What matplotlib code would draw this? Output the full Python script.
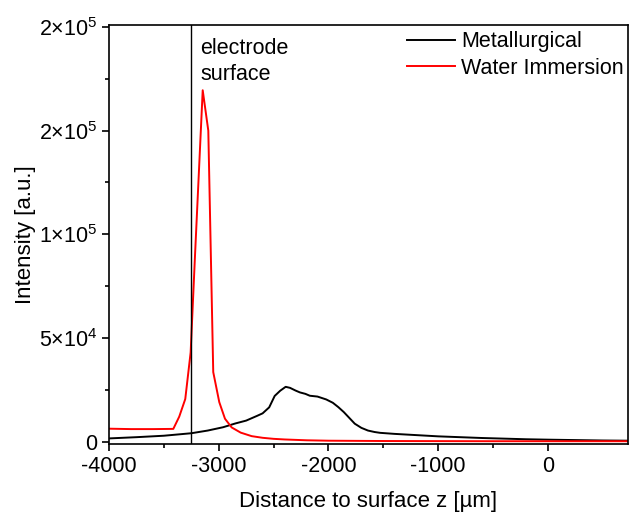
import numpy as np
import matplotlib
matplotlib.use('Agg')
import matplotlib.pyplot as plt
from matplotlib.ticker import FixedLocator

plt.rcParams['font.family'] = ['Liberation Sans', 'DejaVu Sans']
plt.rcParams['mathtext.fontset'] = 'custom'
plt.rcParams['mathtext.rm'] = 'Liberation Sans'
plt.rcParams['mathtext.it'] = 'Liberation Sans'
plt.rcParams['axes.unicode_minus'] = False

# values
metal_z = [-4000, -3750, -3500, -3250, -3100, -2960, -2850, -2750, -2650, -2600, -2540, -2490,
           -2440, -2390, -2350, -2300, -2260, -2210, -2170, -2100, -2020, -1960, -1910, -1860,
           -1810, -1760, -1700, -1640, -1580, -1530, -1400, -1200, -1000, -800, -600, -400,
           -200, 0, 250, 500, 730]
metal_i = [1500, 2100, 2800, 4000, 5300, 6900, 8700, 10100, 12400, 13600, 16500, 22000,
           24500, 26400, 25900, 24600, 23700, 23000, 22100, 21700, 20300, 18700, 16600, 14200,
           11400, 8600, 6600, 5300, 4600, 4200, 3700, 3100, 2500, 2100, 1700, 1400,
           1100, 900, 700, 500, 400]

water_z = [-4000, -3800, -3600, -3414, -3360, -3305, -3256, -3216, -3146, -3095, -3050,
           -2995, -2943, -2882, -2800, -2700, -2600, -2500, -2400, -2200, -2000, -1500,
           -1000, -500, 0, 730]
water_i = [6200, 6000, 6000, 6100, 12000, 20500, 43000, 90000, 169500, 150000, 33500,
           19000, 11000, 6800, 4300, 2600, 1800, 1300, 1000, 600, 400, 250,
           200, 150, 150, 150]

surface_z = -3256

x_ticks = [-4000, -3000, -2000, -1000, 0]
y_ticks = [0, 50000, 100000, 150000, 200000]
y_tick_labels = ['0', r'$5{\times}10^4$', r'$1{\times}10^5$', r'$2{\times}10^5$', r'$2{\times}10^5$']

fig = plt.figure(figsize=(6.29, 5.16), dpi=100)
ax = fig.add_axes([0.1733, 0.1395, 0.8251, 0.8121])

ax.plot(metal_z, metal_i, color='black', lw=1.4, label='Metallurgical')
ax.plot(water_z, water_i, color='red', lw=1.4, label='Water Immersion')
ax.axvline(surface_z, color='black', lw=1.0)

ax.set_xlim(-4000, 730)
ax.set_ylim(-1200, 201000)
ax.set_xticks(x_ticks)
ax.xaxis.set_minor_locator(FixedLocator([-3500, -2500, -1500, -500]))
ax.set_yticks(y_ticks)
ax.set_yticklabels(y_tick_labels)
ax.yaxis.set_minor_locator(FixedLocator([25000, 75000, 125000, 175000]))
ax.tick_params(which='major', direction='out', length=5, width=1.2, labelsize=15.5)
ax.tick_params(which='minor', direction='out', length=3, width=1.2)
for s in ax.spines.values():
    s.set_linewidth(1.2)

ax.set_xlabel('Distance to surface z [µm]', fontsize=16, labelpad=10)
ax.set_ylabel('Intensity [a.u.]', fontsize=16, labelpad=2)

ax.text(-3170, 172000, 'electrode\nsurface', fontsize=15.5, va='bottom', ha='left',
        linespacing=1.3)

ax.legend(loc='upper left', bbox_to_anchor=(0.575, 0.985), frameon=False, fontsize=15.5,
          handlelength=2.2, handletextpad=0.3, labelspacing=0.25, borderpad=0,
          borderaxespad=0)

fig.savefig('out.png', dpi=100)
